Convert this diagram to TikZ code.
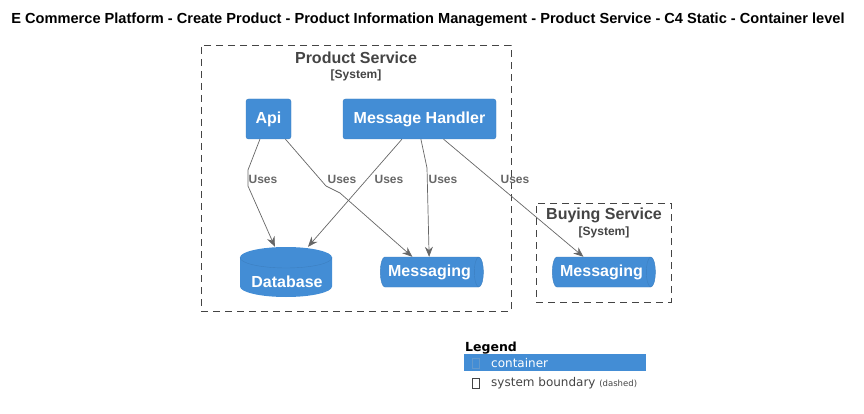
\documentclass[tikz,border=0pt]{standalone}
\usepackage{fontspec}
\setmainfont{Liberation Sans}
\newfontfamily\legendfont{DejaVu Sans}
\usetikzlibrary{arrows,arrows.meta,positioning,shapes.geometric}

\definecolor{c4blue}{HTML}{438DD5}
\definecolor{c4edge}{HTML}{3C7FC0}
\definecolor{c4gray}{HTML}{444444}
\definecolor{c4line}{HTML}{666666}

\begin{document}
\begin{tikzpicture}[x=1pt,y=-1pt]
  \tikzset{container/.style={draw=c4edge,fill=c4blue,rounded corners=2.5pt,text=white,
      font=\fontsize{16}{19}\selectfont\bfseries,minimum height=40pt,inner sep=0pt},
    queue/.style={cylinder,draw=c4edge,fill=c4blue,text=white,aspect=0.6,
      font=\fontsize{16}{19}\selectfont\bfseries,minimum width=30pt,minimum height=103pt,inner sep=0pt},
    boundary/.style={draw=c4gray,dash pattern=on 7pt off 5pt,inner sep=0pt},
    systitle/.style={text=c4gray,font=\fontsize{16}{19}\selectfont\bfseries,inner sep=0pt},
    systag/.style={text=c4gray,font=\fontsize{12}{14}\selectfont\bfseries,inner sep=0pt},
    uses/.style={draw=c4line,line width=0.7pt,-{Stealth[length=10pt,width=8pt]}},
    useslabel/.style={text=c4line,font=\fontsize{12}{14}\selectfont\bfseries,inner sep=0pt},
    dbcap/.style={x radius=46pt,y radius=10.5pt}}
  \useasboundingbox (0,0) rectangle (864,414);

  \node (title) [font=\fontsize{14.6}{17}\selectfont\bfseries,inner sep=0pt] at (428,20)
    {E Commerce Platform - Create Product - Product Information Management - Product Service - C4 Static - Container level};

  % product service
  \node (productsys) [boundary,minimum width=310pt,minimum height=266pt] at (356,178) {};
  \node (productname) [systitle] at (356,58) {Product Service};
  \node (producttag) [systag] at (356,75) {[System]};

  \node (api) [container,minimum width=45pt] at (268.5,119) {\raisebox{-1pt}{Api}};
  \node (handler) [container,minimum width=153pt] at (419.5,119) {\raisebox{-1pt}{Message Handler}};

  % database drawn as a cylinder
  \node (db) [minimum width=92pt,minimum height=50pt,inner sep=0pt] at (286,272) {};
  \fill[c4blue] (240,257.5) -- (240,286.5) arc[start angle=180,end angle=360,dbcap]
    -- (332,257.5) arc[start angle=0,end angle=180,dbcap] -- cycle;
  \draw[c4edge] (240,257.5) arc[start angle=180,end angle=360,dbcap];
  \node (dblabel) [text=white,font=\fontsize{16}{19}\selectfont\bfseries,inner sep=0pt] at (287,282) {Database};

  \node (pmsg) [queue] at (429.5,272) {Messaging};

  % buying service
  \node (buyingsys) [boundary,minimum width=135pt,minimum height=99pt] at (603.5,252.5) {};
  \node (buyingname) [systitle] at (604,215) {Buying Service};
  \node (buyingtag) [systag] at (604,232) {[System]};
  \node (bmsg) [queue] at (601.5,272) {Messaging};

  % relations
  \draw[uses] (api.247) -- (248,170) -- (248,186) -- (db);
  \draw[uses] (api.310) -- (326,186) -- (340,193) -- (pmsg);
  \draw[uses] (handler.229) -- (db);
  \draw[uses] (handler.274) -- (427,168) -- (pmsg);
  \draw[uses] (handler.320) -- (bmsg);
  \node (l1) [useslabel] at (263,179) {Uses};
  \node (l2) [useslabel] at (342,179) {Uses};
  \node (l3) [useslabel] at (389,179) {Uses};
  \node (l4) [useslabel] at (443,179) {Uses};
  \node (l5) [useslabel] at (515,179) {Uses};

  % legend
  \node (legend) [anchor=base west,inner sep=0pt,font=\legendfont\fontsize{12.5}{15}\selectfont\bfseries] at (465,351) {Legend};
  \node (legendbar) [fill=c4blue,minimum width=182pt,minimum height=17pt,inner sep=0pt] at (555,362) {};
  \node (glyph1) [draw=c4edge!80!white,minimum width=7pt,minimum height=10pt,inner sep=0pt] at (476,363) {};
  \node (lcontainer) [anchor=base west,inner sep=0pt,text=white,font=\legendfont\fontsize{12}{14}\selectfont] at (491,367) {container};
  \node (glyph2) [draw=c4gray,minimum width=7pt,minimum height=10pt,inner sep=0pt] at (476,383) {};
  \node (lboundary) [anchor=base west,inner sep=0pt,text=c4gray,font=\legendfont\fontsize{12}{14}\selectfont] at (491,386)
    {system boundary {\fontsize{8.5}{10}\selectfont(dashed)}};
\end{tikzpicture}
\end{document}
